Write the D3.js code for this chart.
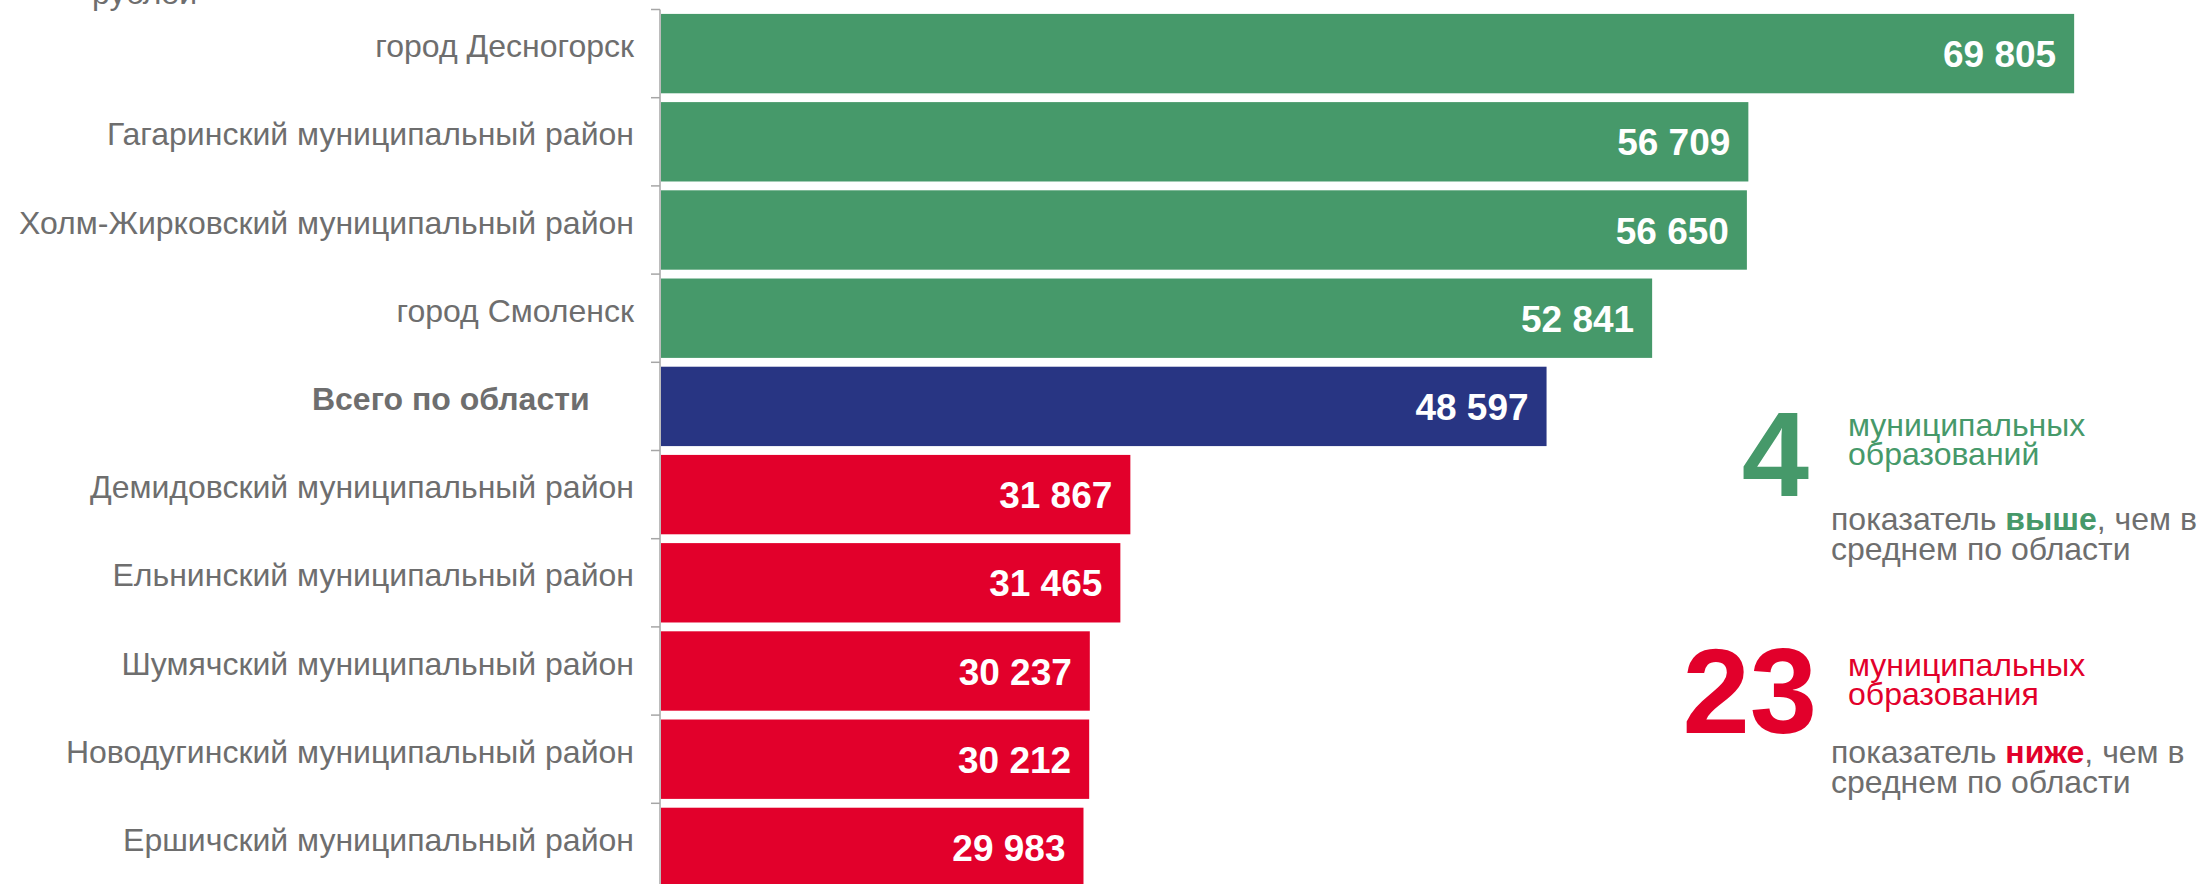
<!DOCTYPE html>
<html>
<head>
<meta charset="utf-8">
<script src="https://cdn.jsdelivr.net/npm/d3@7"></script>
<style>
  html, body { margin: 0; padding: 0; background: #fff; overflow: hidden; }
  text { font-family: Arial, "Liberation Sans", sans-serif; }
</style>
</head>
<body>
<div class="chart"></div>
<script>
const categories = [
    "город Десногорск",
    "Гагаринский муниципальный район",
    "Холм-Жирковский муниципальный район",
    "город Смоленск",
    "Всего по области     ",
    "Демидовский муниципальный район",
    "Ельнинский муниципальный район",
    "Шумячский муниципальный район",
    "Новодугинский муниципальный район",
    "Ершичский муниципальный район"
];
const values = [69805, 56709, 56650, 52841, 48597, 31867, 31465, 30237, 30212, 29983];
const totalName = "Всего по области     ";
const unitLabel = "рублей";
const aboveCount = 4;
const belowCount = 23;

const colors = {above: "#46996a", total: "#283583", below: "#e2002b"};
const gray = "#6e6e6e";

const w = 2201, h = 884;
const data = categories.map((c, i) => ({name: c, value: values[i]}));
const total = values[categories.indexOf(totalName)];

const svg = d3.select(".chart")
    .append("svg")
    .attr("width", w)
    .attr("height", h);

const xScale = d3.scaleLinear()
    .domain([13000, 70000])
    .range([661, 2079]);

const yScale = d3.scaleBand()
    .domain(categories)
    .range([9.5, 891.5])
    .paddingInner(0.1)
    .paddingOuter(0.05);

const step = yScale.step();
const axisX = 660;

// axis line and ticks between categories
const axis = svg.append("g").attr("class", "axis y-axis");
axis.append("line")
    .attr("x1", axisX).attr("x2", axisX)
    .attr("y1", yScale.range()[0]).attr("y2", yScale.range()[1])
    .attr("stroke", "#a6a6a6")
    .attr("stroke-width", 1.5);
const bounds = categories.map(c => yScale(c) - step * 0.05).concat([yScale.range()[1]]);
axis.selectAll(".tick")
    .data(bounds)
    .join("line")
    .attr("class", "tick")
    .attr("x1", axisX - 9).attr("x2", axisX)
    .attr("y1", d => d).attr("y2", d => d)
    .attr("stroke", "#a6a6a6")
    .attr("stroke-width", 1.5);

svg.selectAll("rect.bar")
    .data(data)
    .join("rect")
    .attr("class", "bar")
    .attr("x", xScale(13000))
    .attr("y", d => yScale(d.name))
    .attr("width", d => xScale(d.value) - xScale(13000))
    .attr("height", yScale.bandwidth())
    .attr("fill", d => d.name === totalName ? colors.total : (d.value > total ? colors.above : colors.below));

svg.selectAll("text.cat")
    .data(data)
    .join("text")
    .attr("class", "cat")
    .attr("x", 634)
    .attr("y", d => yScale(d.name) + yScale.bandwidth() / 2 + 3.5)
    .attr("text-anchor", "end")
    .attr("font-size", 32)
    .attr("font-weight", d => d.name === totalName ? "bold" : "normal")
    .style("white-space", "pre")
    .attr("fill", gray)
    .text(d => d.name);

svg.selectAll("text.val")
    .data(data)
    .join("text")
    .attr("class", "val")
    .attr("x", d => xScale(d.value) - 18)
    .attr("y", d => yScale(d.name) + yScale.bandwidth() / 2 + 13.5)
    .attr("text-anchor", "end")
    .attr("font-size", 37)
    .attr("font-weight", "bold")
    .attr("fill", "white")
    .text(d => d3.format(",")(d.value).replace(",", " "));

svg.append("text")
    .attr("x", 92)
    .attr("y", 4)
    .attr("font-size", 32)
    .attr("fill", gray)
    .text(unitLabel);

// side notes
function note(g, count, color, word, line2, numX, numY, headY, textY) {
    g.append("text")
        .attr("x", numX).attr("y", numY)
        .attr("text-anchor", "end")
        .attr("font-size", 121)
        .attr("font-weight", "bold")
        .attr("fill", color)
        .text(count);
    g.append("text")
        .attr("x", 1848).attr("y", headY)
        .attr("font-size", 32)
        .attr("fill", color)
        .text("муниципальных");
    g.append("text")
        .attr("x", 1848).attr("y", headY + 28.5)
        .attr("font-size", 32)
        .attr("fill", color)
        .text(line2);
    const t = g.append("text")
        .attr("x", 1831).attr("y", textY)
        .attr("font-size", 32)
        .attr("fill", gray);
    t.append("tspan").text("показатель ");
    t.append("tspan").attr("font-weight", "bold").attr("fill", color).text(word);
    t.append("tspan").text(", чем в");
    g.append("text")
        .attr("x", 1831).attr("y", textY + 30)
        .attr("font-size", 32)
        .attr("fill", gray)
        .text("среднем по области");
}

const notes = svg.append("g").attr("class", "notes");
note(notes, aboveCount, colors.above, "выше", "образований", 1809, 496, 436, 530);
note(notes, belowCount, colors.below, "ниже", "образования", 1817, 733, 676, 763);
</script>
</body>
</html>
